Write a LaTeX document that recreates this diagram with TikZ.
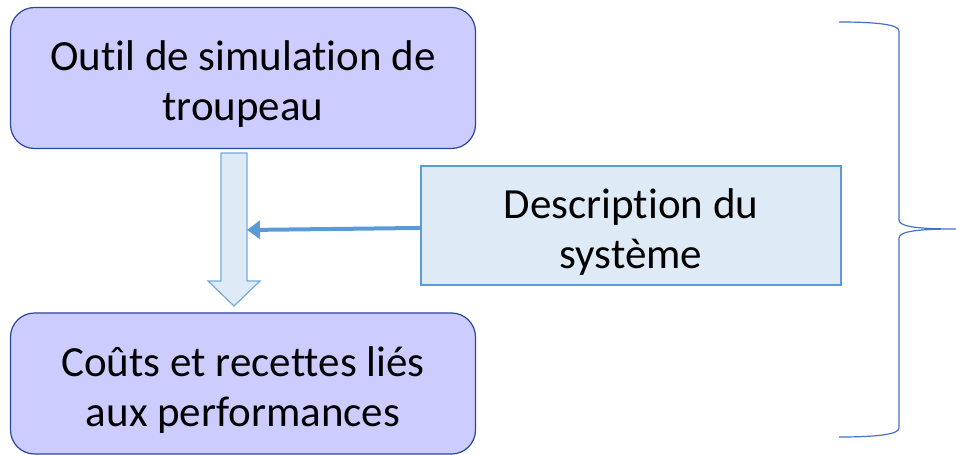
\documentclass[tikz,border=0pt]{standalone}
\usepackage{fontspec}
\setmainfont{Carlito}[Ligatures={NoCommon}]
\usepackage{xcolor}
\usepackage{tikz}
\usetikzlibrary{shapes,arrows.meta}
\definecolor{lavender}{HTML}{CCCCFF}
\definecolor{navy}{HTML}{2A4599}
\definecolor{paleblue}{HTML}{DEEBF7}
\definecolor{midblue}{HTML}{5B9BD5}
\definecolor{bracecol}{HTML}{4472C4}
\newcommand{\topgap}{\rule{0pt}{42pt}}
\tikzstyle{block} = [rectangle, draw=navy, line width=1.2pt, fill=lavender, text centered, align=center, rounded corners=24pt, minimum width=465pt, minimum height=141pt, font=\fontsize{43}{50}\selectfont]
\tikzstyle{input} = [rectangle, draw=midblue, line width=1.2pt, fill=paleblue, text centered, align=center, minimum width=420pt, minimum height=119pt, font=\fontsize{43}{50}\selectfont]
\tikzstyle{flow} = [draw=midblue!85, line width=1.2pt, fill=paleblue]
\tikzstyle{line} = [draw=midblue, line width=4pt, -{Triangle[length=13pt,width=18pt]}]

\begin{document}
\begin{tikzpicture}[x=1pt, y=1pt, node distance = 305.5pt]
        \useasboundingbox (0,0) rectangle (956,455);

        % Place nodes
        \node [block] (tool) at (243,377) {\topgap Outil de simulation de\\troupeau};
        \node [block, below of=tool] (cost) {\topgap Coûts et recettes liés\\aux performances};
        \node [input] (desc) at (631,229.5) {\topgap Description du\\système};

        % Big arrow between the two blocks
        \draw [flow] (221,302) -- (221,174) -- (208,174) -- (234,149) -- (260,174) -- (247,174) -- (247,302) -- cycle;
        \coordinate (join) at (247,225);

        % Draw edges
        \path [line] (desc) -- (join);

        % Brace
        \draw [bracecol, line width=1.2pt] (839,433) .. controls (880,433) and (899,430) .. (899,424) -- (899,235) .. controls (899,228) and (920,226) .. (956,226)
              .. controls (920,226) and (899,224) .. (899,217) -- (899,27) .. controls (899,21) and (880,18) .. (839,18);
\end{tikzpicture}
\end{document}
